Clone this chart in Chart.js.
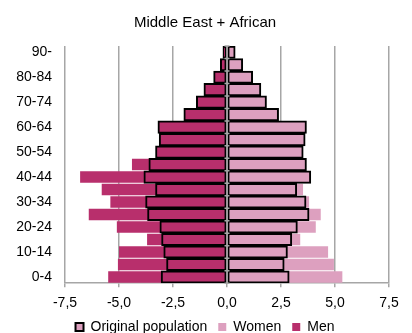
<!DOCTYPE html>
<html>
<head>
<meta charset="utf-8">
<script src="https://cdn.jsdelivr.net/npm/chart.js@4/dist/chart.umd.min.js"></script>
<style>
  html, body { margin: 0; padding: 0; background: #fff; }
  #wrap { width: 412px; height: 333px; }
</style>
</head>
<body>
<div id="wrap"><canvas id="c" width="412" height="333"></canvas></div>
<script>
// age groups, bottom (0-4) to top (90-)
const ages = ['0-4','5-9','10-14','15-19','20-24','25-29','30-34','35-39','40-44','45-49',
  '50-54','55-59','60-64','65-69','70-74','75-79','80-84','85-89','90-'];

// current population, % (men drawn on the negative side)
const menNow   = [-5.5,-5.05,-5.0,-3.7,-5.1,-6.4,-5.4,-5.8,-6.8,-4.4,-3.2,-3.1,-3.1,-1.9,-1.4,-1.0,-0.6,-0.3,-0.15];
const womenNow = [5.34,4.95,4.68,3.39,4.11,4.34,3.8,3.52,3.7,3.5,3.4,3.5,3.55,2.3,1.75,1.5,1.1,0.65,0.3];

// original population, %
const menOrig   = [-3.05,-2.8,-2.93,-3.03,-3.11,-3.68,-3.77,-3.31,-3.85,-3.62,-3.31,-3.14,-3.2,-2.0,-1.42,-1.07,-0.62,-0.31,-0.19];
const womenOrig = [2.88,2.65,2.8,3.0,3.26,3.8,3.66,3.23,3.88,3.68,3.53,3.62,3.68,2.39,1.83,1.57,1.19,0.73,0.38];

const xTicks = [-7.5,-5,-2.5,0,2.5,5,7.5];

const MEN = '#b82f6c';
const WOMEN = '#dda0bf';
const GRID = '#a6a6a6';
const FONT = 'Liberation Sans, Arial, sans-serif';

// category axis drawn at x=0 over the bars, with small cross tick marks
const zeroAxis = {
  id: 'zeroAxis',
  afterDatasetsDraw(chart){
    const {ctx, scales:{x}, chartArea} = chart;
    const x0 = x.getPixelForValue(0);
    ctx.save();
    ctx.strokeStyle = GRID;
    ctx.lineWidth = 1.5;
    ctx.beginPath();
    ctx.moveTo(x0, chartArea.top);
    ctx.lineTo(x0, chartArea.bottom);
    const step = (chartArea.bottom - chartArea.top) / ages.length;
    for(let i = 0; i <= ages.length; i++){
      const yy = chartArea.top + i * step;
      ctx.moveTo(x0 - 2.5, yy);
      ctx.lineTo(x0 + 2.5, yy);
    }
    ctx.stroke();
    ctx.restore();
  }
};

// pull the legend up closer to the tick labels (grow its box upwards, legend clips to it)
const legendNudge = {
  id: 'legendNudge',
  afterLayout(chart){
    chart.legend.top -= 11;
    chart.legend.height += 11;
  }
};

new Chart(document.getElementById('c'), {
  type: 'bar',
  data: {
    labels: ages,
    datasets: [
      { label: 'Original population', data: womenOrig, backgroundColor: WOMEN, borderColor: '#000',
        borderWidth: 2, borderSkipped: false, grouped: false, barPercentage: 1, categoryPercentage: 1 },
      { label: 'Original men', data: menOrig, backgroundColor: MEN, borderColor: '#000',
        borderWidth: 2, borderSkipped: false, grouped: false, barPercentage: 1, categoryPercentage: 1 },
      { label: 'Women', data: womenNow, backgroundColor: WOMEN, borderWidth: 0,
        grouped: false, barPercentage: 0.92, categoryPercentage: 1 },
      { label: 'Men', data: menNow, backgroundColor: MEN, borderWidth: 0,
        grouped: false, barPercentage: 0.92, categoryPercentage: 1 }
    ]
  },
  options: {
    responsive: false,
    animation: false,
    indexAxis: 'y',
    layout: { padding: { left: 4, right: 6, top: 4, bottom: 0 } },
    plugins: {
      title: { display: true, text: 'Middle East + African', color: '#000',
        font: { family: FONT, size: 15, weight: 'normal' }, padding: { top: 10, bottom: 14 } },
      legend: {
        position: 'bottom',
        maxHeight: 13,
        labels: {
          color: '#000', boxWidth: 8, boxHeight: 8, padding: 11,
          font: { family: FONT, size: 14 },
          filter: item => item.text !== 'Original men'
        }
      },
      tooltip: { enabled: false }
    },
    scales: {
      x: {
        min: -7.5, max: 7.5,
        afterBuildTicks: axis => { axis.ticks = xTicks.map(v => ({ value: v })); },
        afterFit: axis => { axis.paddingRight = 23; },
        ticks: { color: '#000', font: { family: FONT, size: 14 }, padding: 8,
          callback: v => v.toFixed(1).replace('.', ',') },
        grid: { color: GRID, lineWidth: 1.5, tickLength: 4, tickColor: GRID },
        border: { display: true, color: GRID, width: 1.5 }
      },
      y: {
        reverse: true,
        afterFit: axis => { axis.width = 61; },
        ticks: { color: '#000', font: { family: FONT, size: 14 }, autoSkip: false, padding: 13,
          callback: (v, i) => i % 2 === 0 ? ages[i] : '' },
        grid: { display: false, drawTicks: false },
        border: { display: false }
      }
    }
  },
  plugins: [zeroAxis, legendNudge]
});
</script>
</body>
</html>
